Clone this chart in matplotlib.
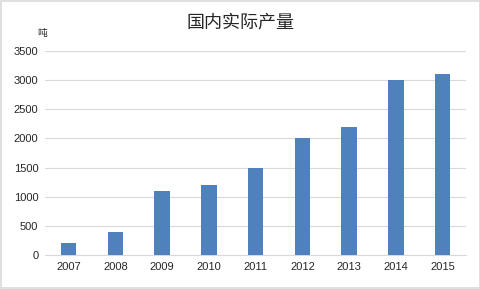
import matplotlib
matplotlib.use("Agg")
import matplotlib.pyplot as plt
import matplotlib.patches as patches

plt.rcParams['font.family'] = ['Noto Sans CJK SC', 'DejaVu Sans']

years = ["2007", "2008", "2009", "2010", "2011", "2012", "2013", "2014", "2015"]
output = [200, 400, 1100, 1200, 1500, 2000, 2200, 3000, 3100]
yticks = [0, 500, 1000, 1500, 2000, 2500, 3000, 3500]

fig = plt.figure(figsize=(4.81, 2.89), dpi=100)
ax = fig.add_axes([0.094, 0.1176, 0.875, 0.706])

x = range(len(years))
ax.bar(x, output, width=0.33, color="#4F81BD", zorder=3)

ax.set_xlim(-0.5, len(years) - 0.5)
ax.set_ylim(0, 3500)
ax.set_yticks(yticks)
ax.set_yticklabels([str(v) for v in yticks], fontsize=8, family="Liberation Sans", color="#262626")
ax.set_xticks(list(x))
ax.set_xticklabels(years, fontsize=8, family="Liberation Sans", color="#262626")
ax.tick_params(length=0, pad=5)
ax.grid(axis="y", color="#D9D9D9", linewidth=0.8, zorder=0)
for s in ["top", "right", "left"]:
    ax.spines[s].set_visible(False)
ax.spines["bottom"].set_color("#D9D9D9")
ax.spines["bottom"].set_linewidth(0.8)

# title and unit label
fig.text(0.5, 0.922, "国内实际产量", ha="center", va="center", fontsize=13, color="#262626")
fig.text(0.087, 0.885, "吨", ha="center", va="center", fontsize=7, color="#262626")

# light border around the chart
border = patches.Rectangle((0.002, 0.003), 0.995, 0.993, transform=fig.transFigure,
                           fill=False, edgecolor="#D9D9D9", linewidth=1.2)
fig.patches.append(border)

fig.savefig("out.png", dpi=100)
